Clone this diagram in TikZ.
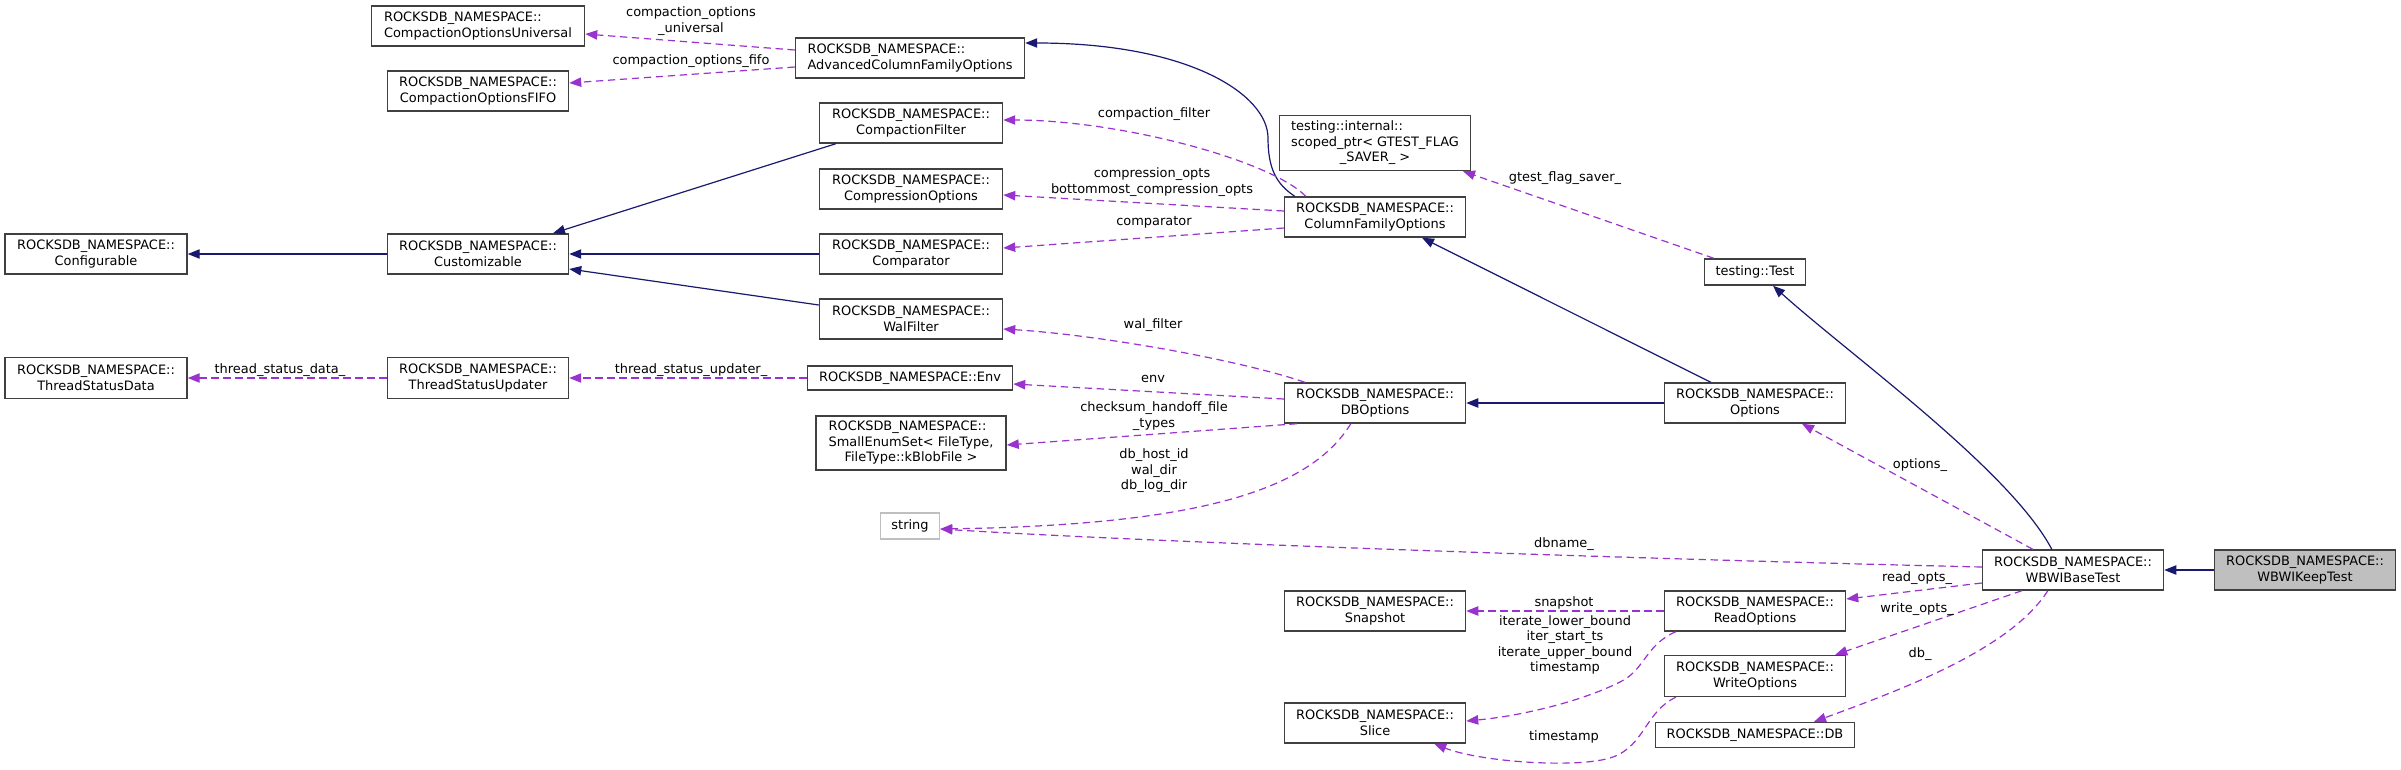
\documentclass[tikz,border=0pt]{standalone}
\usepackage{fontspec}
\setmainfont{DejaVu Sans}
\usetikzlibrary{arrows.meta,calc}
\definecolor{inhcol}{HTML}{191970}
\definecolor{usecol}{HTML}{9A32CD}
\definecolor{bordcol}{HTML}{404040}
\definecolor{grey75}{HTML}{BFBFBF}
\begin{document}
\begin{tikzpicture}[x=0.75pt,y=-0.75pt,
  every node/.style={font=\fontsize{9.7}{11.6}\selectfont},
  cls/.style={draw=bordcol, line width=1.1pt, fill=white, inner sep=0pt, align=center, minimum width=135.75pt, minimum height=30pt},
  ib/.style={draw=inhcol, line width=0.9pt, -{Triangle[length=9pt,width=7pt]}},
  ud/.style={draw=usecol, line width=0.9pt, dash pattern=on 5.5pt off 3.5pt, -{Triangle[length=9pt,width=7pt]}},
  lbl/.style={inner sep=0pt, align=center}]
\fill[white] (0,0) rectangle (2401,769);
\useasboundingbox (0,0) rectangle (2401,769);

% nodes
\node[cls, minimum width=159.75pt, align=left] (cou) at (478,26) {ROCKSDB\_NAMESPACE::\\CompactionOptionsUniversal};
\node[cls] (cof) at (478,91) {ROCKSDB\_NAMESPACE::\\CompactionOptionsFIFO};
\node[cls, minimum width=136.5pt] (conf) at (96,254) {ROCKSDB\_NAMESPACE::\\Configurable};
\node[cls] (cust) at (478,254) {ROCKSDB\_NAMESPACE::\\Customizable};
\node[cls, minimum width=136.5pt, minimum height=30.75pt] (tsd) at (96,378) {ROCKSDB\_NAMESPACE::\\ThreadStatusData};
\node[cls, minimum height=30.75pt] (tsu) at (478,378) {ROCKSDB\_NAMESPACE::\\ThreadStatusUpdater};
\node[cls, minimum width=171.75pt, align=left] (acfo) at (910,58) {ROCKSDB\_NAMESPACE::\\AdvancedColumnFamilyOptions};
\node[cls, minimum width=137.25pt] (cfil) at (911,123) {ROCKSDB\_NAMESPACE::\\CompactionFilter};
\node[cls, minimum width=137.25pt] (cmpo) at (911,189) {ROCKSDB\_NAMESPACE::\\CompressionOptions};
\node[cls, minimum width=137.25pt] (cmp) at (911,254) {ROCKSDB\_NAMESPACE::\\Comparator};
\node[cls, minimum width=137.25pt] (walf) at (911,319) {ROCKSDB\_NAMESPACE::\\WalFilter};
\node[cls, minimum width=153.75pt, minimum height=18pt] (env) at (910,378) {ROCKSDB\_NAMESPACE::Env};
\node[cls, minimum width=142.5pt, minimum height=40.5pt] (sset) at (911,443) {\begin{tabular}{@{}l@{}}ROCKSDB\_NAMESPACE::\\SmallEnumSet< FileType,\\\multicolumn{1}{@{}c@{}}{FileType::kBlobFile >}\end{tabular}};
\node[cls, draw=grey75, minimum width=44.25pt, minimum height=19.5pt] (str) at (910,526) {string};
\node[cls, minimum width=143.25pt, minimum height=41.25pt] (scp) at (1375,143) {\begin{tabular}{@{}l@{}}testing::internal::\\scoped\_ptr< GTEST\_FLAG\\\multicolumn{1}{@{}c@{}}{\_SAVER\_ >}\end{tabular}};
\node[cls] (cfo) at (1375,217) {ROCKSDB\_NAMESPACE::\\ColumnFamilyOptions};
\node[cls] (dbo) at (1375,403) {ROCKSDB\_NAMESPACE::\\DBOptions};
\node[cls] (snap) at (1375,611) {ROCKSDB\_NAMESPACE::\\Snapshot};
\node[cls] (slice) at (1375,723) {ROCKSDB\_NAMESPACE::\\Slice};
\node[cls, minimum width=75.75pt, minimum height=19.5pt] (test) at (1755,272) {testing::Test};
\node[cls] (opt) at (1755,403) {ROCKSDB\_NAMESPACE::\\Options};
\node[cls] (ropt) at (1755,611) {ROCKSDB\_NAMESPACE::\\ReadOptions};
\node[cls, minimum height=30.75pt] (wopt) at (1755,676) {ROCKSDB\_NAMESPACE::\\WriteOptions};
\node[cls, minimum width=149.25pt, minimum height=18.75pt] (db) at (1755,735) {ROCKSDB\_NAMESPACE::DB};
\node[cls] (base) at (2073,570) {ROCKSDB\_NAMESPACE::\\WBWIBaseTest};
\node[cls, fill=grey75] (keep) at (2305,570) {ROCKSDB\_NAMESPACE::\\WBWIKeepTest};

% inheritance edges
\draw[ib] (cust.west) -- (conf.east);
\draw[ib] ($(cfil.south west)+(17,0)$) -- ($(cust.north)+(75,0)$);
\draw[ib] (cmp.west) -- (cust.east);
\draw[ib] ($(walf.west)+(0,-14)$) -- ($(cust.east)+(0,15)$);
\draw[ib] ($(cfo.north west)+(11,0)$) .. controls (1276,184) and (1268,168) .. (1268,138) .. controls (1268,95) and (1190,43) .. ($(acfo.east)+(0,-15)$);
\draw[ib] ($(opt.north west)+(47,0)$) -- ($(cfo.south)+(47,0)$);
\draw[ib] (opt.west) -- (dbo.east);
\draw[ib] ($(base.north west)+(70,0)$) .. controls (2010,470) and (1850,355) .. ($(test.south)+(18,0)$);
\draw[ib] (keep.west) -- (base.east);

% usage edges
\draw[ud] ($(acfo.west)+(0,-8)$) -- ($(cou.east)+(0,8)$);
\draw[ud] ($(acfo.west)+(0,9)$) -- ($(cof.east)+(0,-8)$);
\draw[ud] ($(cfo.north west)+(22,0)$) .. controls (1270,160) and (1120,120) .. ($(cfil.east)+(0,-3)$);
\draw[ud] ($(cfo.west)+(0,-6)$) -- ($(cmpo.east)+(0,6)$);
\draw[ud] ($(cfo.west)+(0,11)$) -- ($(cmp.east)+(0,-6)$);
\draw[ud] ($(dbo.north west)+(21,0)$) .. controls (1240,360) and (1100,335) .. ($(walf.east)+(0,10)$);
\draw[ud] ($(dbo.west)+(0,-4)$) -- ($(env.east)+(0,6)$);
\draw[ud] ($(dbo.south west)+(13,0)$) -- ($(sset.east)+(0,2)$);
\draw[ud] ($(dbo.south west)+(67,0)$) .. controls (1310,490) and (1200,525) .. ($(str.east)+(0,3)$);
\draw[ud] (tsu.west) -- (tsd.east);
\draw[ud] (env.west) -- (tsu.east);
\draw[ud] ($(test.north west)+(10,0)$) -- ($(scp.south)+(88,0)$);
\draw[ud] ($(base.north west)+(51,0)$) -- ($(opt.south)+(47,0)$);
\draw[ud] ($(base.west)+(0,-3)$) .. controls (1600,558) and (1150,542) .. ($(str.east)+(0,3)$);
\draw[ud] ($(base.west)+(0,13)$) -- ($(ropt.east)+(0,-12)$);
\draw[ud] ($(base.south west)+(40,0)$) -- ($(wopt.north east)+(-11,0)$);
\draw[ud] ($(base.south west)+(66,0)$) .. controls (2010,650) and (1900,690) .. ($(db.north)+(59,0)$);
\draw[ud] (ropt.west) -- (snap.east);
\draw[ud] ($(ropt.south west)+(12,0)$) .. controls (1645,645) and (1645,670) .. (1620,682) .. controls (1580,702) and (1520,716) .. ($(slice.east)+(0,-2)$);
\draw[ud] ($(wopt.south west)+(12,0)$) .. controls (1645,712) and (1645,745) .. (1613,757) .. controls (1580,769) and (1480,762) .. ($(slice.south east)+(-32,0)$);

% labels
\node[lbl] (l1) at (691,21) {compaction\_options\\\_universal};
\node[lbl] (l2) at (691,61) {compaction\_options\_fifo};
\node[lbl] (l3) at (280,370) {thread\_status\_data\_};
\node[lbl] (l4) at (691,370) {thread\_status\_updater\_};
\node[lbl] (l5) at (1154,114) {compaction\_filter};
\node[lbl] (l6) at (1152,182) {compression\_opts\\bottommost\_compression\_opts};
\node[lbl] (l7) at (1154,222) {comparator};
\node[lbl] (l8) at (1153,325) {wal\_filter};
\node[lbl] (l9) at (1153,379) {env};
\node[lbl] (l10) at (1154,416) {checksum\_handoff\_file\\\_types};
\node[lbl] (l11) at (1154,471) {db\_host\_id\\wal\_dir\\db\_log\_dir};
\node[lbl] (l12) at (1565,178) {gtest\_flag\_saver\_};
\node[lbl] (l13) at (1920,465) {options\_};
\node[lbl] (l14) at (1564,544) {dbname\_};
\node[lbl] (l15) at (1917,578) {read\_opts\_};
\node[lbl] (l16) at (1917,609) {write\_opts\_};
\node[lbl] (l17) at (1920,654) {db\_};
\node[lbl] (l18) at (1564,603) {snapshot};
\node[lbl] (l19) at (1565,645) {iterate\_lower\_bound\\iter\_start\_ts\\iterate\_upper\_bound\\timestamp};
\node[lbl] (l20) at (1564,737) {timestamp};
\end{tikzpicture}
\end{document}
